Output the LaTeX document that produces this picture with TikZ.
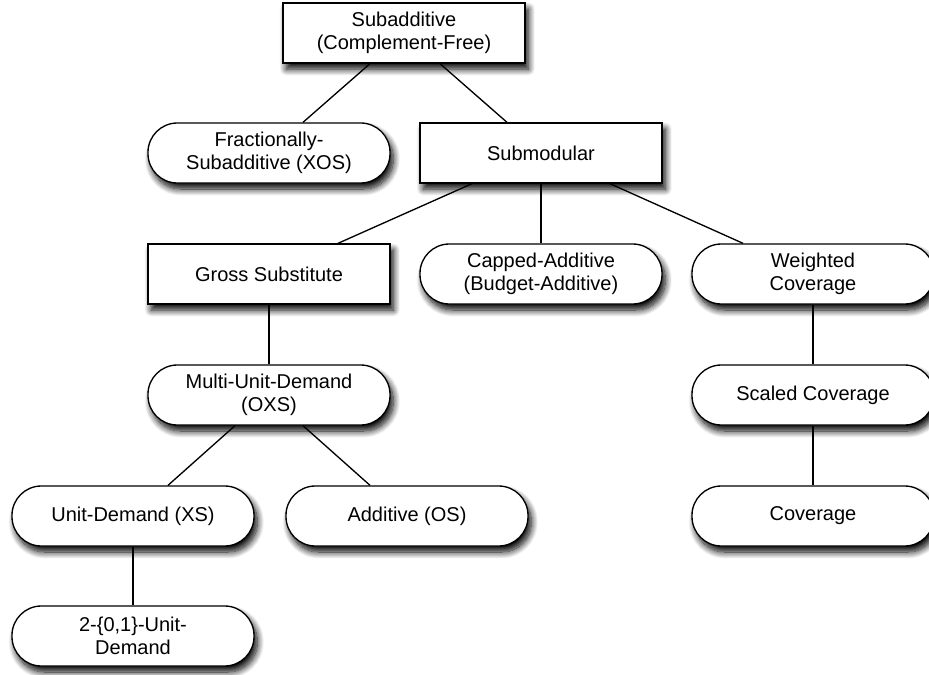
\documentclass[tikz,border=0pt]{standalone}
\usepackage{fontspec}
\setmainfont{Liberation Sans}
\usetikzlibrary{shadows.blur,calc}
\begin{document}
\begin{tikzpicture}[x=0.75pt,y=-0.75pt,
  base/.style={draw=black, line width=1pt, fill=white, align=center,
    font=\fontsize{15}{17.5}\selectfont, minimum height=45pt, inner sep=0pt,
    minimum width=181.5pt,
    blur shadow={shadow xshift=2.5pt, shadow yshift=-4.5pt, shadow blur steps=12,
      shadow blur radius=5pt, shadow opacity=100}},
  boxnode/.style={base, rectangle},
  roundnode/.style={base, rectangle, rounded corners=22pt},
  link/.style={line width=1pt}]
\useasboundingbox (0,0) rectangle (929,675);

\node[boxnode] (sub) at (404,33) {Subadditive\\(Complement-Free)};
\node[roundnode] (frac) at (269,153) {Fractionally-\\Subadditive (XOS)};
\node[boxnode] (submod) at (541,153) {Submodular};
\node[boxnode] (gross) at (269,274) {Gross Substitute};
\node[roundnode] (capped) at (541,274) {Capped-Additive\\(Budget-Additive)};
\node[roundnode] (weighted) at (813,274) {Weighted\\Coverage};
\node[roundnode] (multi) at (269,395) {Multi-Unit-Demand\\(OXS)};
\node[roundnode] (scaled) at (813,395) {Scaled Coverage};
\node[roundnode] (unit) at (133,516) {Unit-Demand (XS)};
\node[roundnode] (add) at (407,516) {Additive (OS)};
\node[roundnode] (cov) at (813,516) {Coverage};
\node[roundnode] (two) at (133,636) {2-\{0,1\}-Unit-\\Demand};

\draw[link] ($(sub.south)+(-34,0)$) -- ($(frac.north)+(34,0)$);
\draw[link] ($(sub.south)+(36,0)$) -- ($(submod.north)+(-34,0)$);
\draw[link] ($(submod.south)+(-69,0)$) -- ($(gross.north)+(69,0)$);
\draw[link] (submod.south) -- (capped.north);
\draw[link] ($(submod.south)+(69,0)$) -- ($(weighted.north)+(-70,0)$);
\draw[link] (gross.south) -- (multi.north);
\draw[link] ($(multi.south)+(-34,0)$) -- ($(unit.north)+(35,0)$);
\draw[link] ($(multi.south)+(34,0)$) -- ($(add.north)+(-37,0)$);
\draw[link] (unit.south) -- (two.north);
\draw[link] (weighted.south) -- (scaled.north);
\draw[link] (scaled.south) -- (cov.north);
\end{tikzpicture}
\end{document}
